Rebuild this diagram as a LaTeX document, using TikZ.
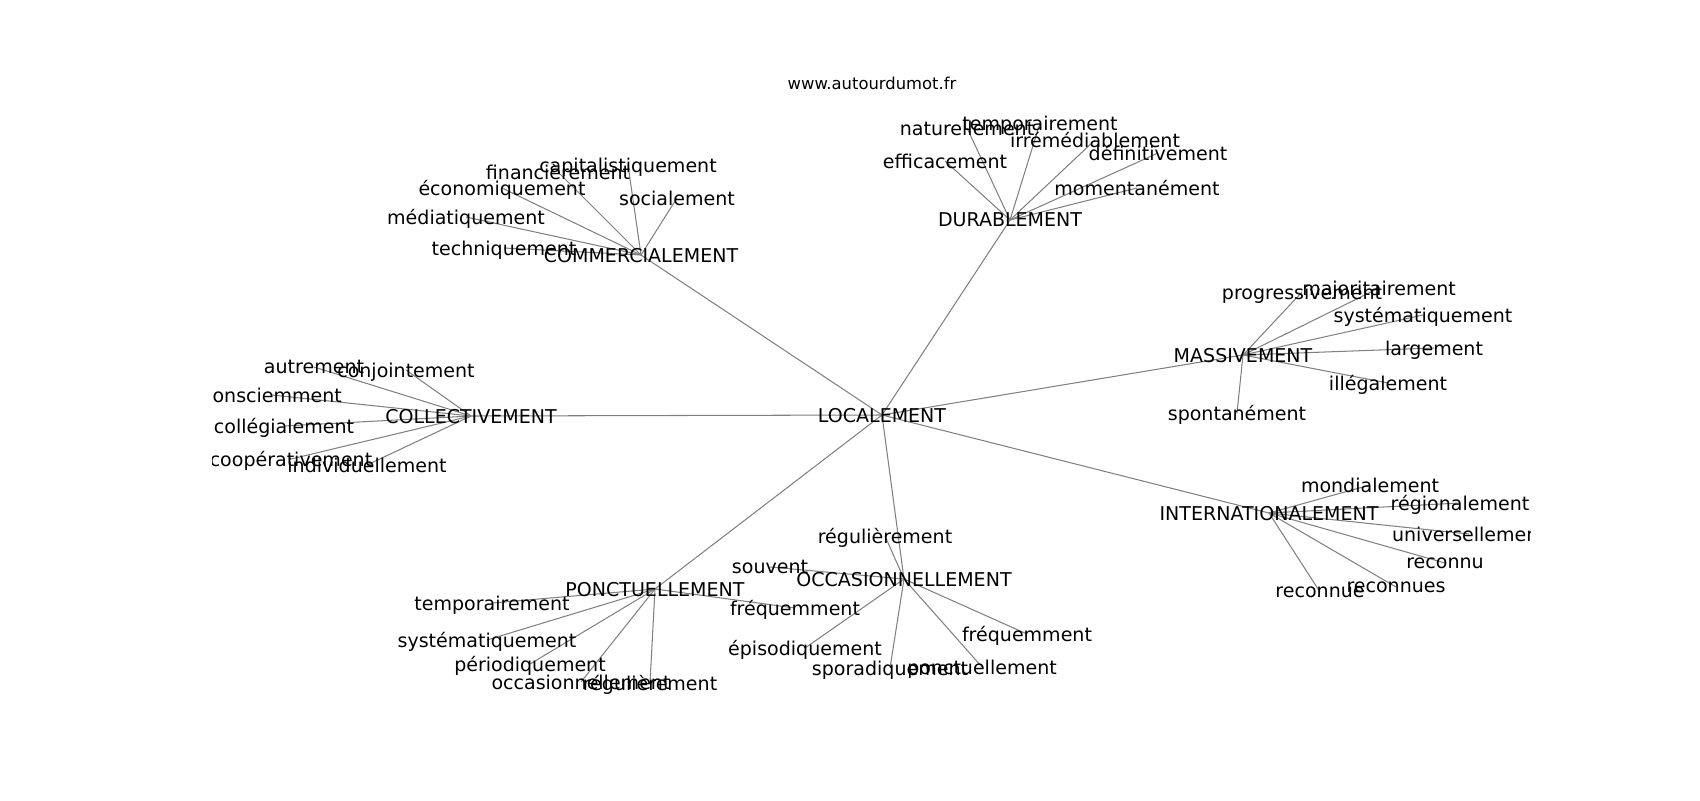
\documentclass[tikz,border=0pt]{standalone}
\usepackage{fontspec}
\setmainfont{DejaVu Sans}
\usetikzlibrary{backgrounds}

\begin{document}
\begin{tikzpicture}[
      x=0.72pt, y=-0.72pt,
      every node/.style={inner sep=0pt,text depth=0pt,font=\fontsize{13.7}{16}\selectfont},
      link/.style={draw=black!50,line width=0.75pt},
      site/.style={font=\fontsize{11.8}{14}\selectfont}
    ]
  \useasboundingbox (0,0) rectangle (1700,800);
  \node[site] (title) at (872,83) {www.autourdumot.fr};
  \begin{scope}
    \clip (212.5,96) rectangle (1530,712);
    % centre
    \node (loc) at (882,415) {LOCALEMENT};
    % collectivement
    \node (coll) at (471,416) {COLLECTIVEMENT};
    \node (coll1) at (314,367) {autrement};
    \node (coll2) at (406,370) {conjointement};
    \node (coll3) at (272,395) {consciemment};
    \node (coll4) at (284,426) {collégialement};
    \node (coll5) at (291,459) {coopérativement};
    \node (coll6) at (367,465) {individuellement};
    % commercialement
    \node (comm) at (641,255) {COMMERCIALEMENT};
    \node (comm1) at (558,172) {financièrement};
    \node (comm2) at (628,165) {capitalistiquement};
    \node (comm3) at (502,188) {économiquement};
    \node (comm4) at (677,198) {socialement};
    \node (comm5) at (466,217) {médiatiquement};
    \node (comm6) at (504,248) {techniquement};
    % durablement
    \node (dur) at (1010,220) {DURABLEMENT};
    \node (dur1) at (967,128) {naturellement};
    \node (dur2) at (1040,123) {temporairement};
    \node (dur3) at (1095,140) {irrémédiablement};
    \node (dur4) at (1158,153) {définitivement};
    \node (dur5) at (945,161) {efficacement};
    \node (dur6) at (1137,188) {momentanément};
    % massivement
    \node (mass) at (1243,355) {MASSIVEMENT};
    \node (mass1) at (1302,292) {progressivement};
    \node (mass2) at (1379,288) {majoritairement};
    \node (mass3) at (1423,315) {systématiquement};
    \node (mass4) at (1434,348) {largement};
    \node (mass5) at (1388,383) {illégalement};
    \node (mass6) at (1237,413) {spontanément};
    % internationalement
    \node (intl) at (1269,513) {INTERNATIONALEMENT};
    \node (intl1) at (1370,485) {mondialement};
    \node (intl2) at (1460,503) {régionalement};
    \node (intl3) at (1469,534) {universellement};
    \node (intl4) at (1445,563) {reconnu};
    \node (intl5) at (1320,592) {reconnue};
    \node (intl6) at (1396,587) {reconnues};
    % ponctuellement
    \node (ponc) at (655,589) {PONCTUELLEMENT};
    \node (ponc1) at (492,603) {temporairement};
    \node (ponc2) at (487,640) {systématiquement};
    \node (ponc3) at (530,664) {périodiquement};
    \node (ponc4) at (581,682) {occasionnellement};
    \node (ponc5) at (650,683) {régulièrement};
    \node (ponc6) at (795,608) {fréquemment};
    % occasionnellement
    \node (occ) at (904,579) {OCCASIONNELLEMENT};
    \node (occ1) at (885,536) {régulièrement};
    \node (occ2) at (770,567) {souvent};
    \node (occ3) at (1027,634) {fréquemment};
    \node (occ4) at (805,648) {épisodiquement};
    \node (occ5) at (890,668) {sporadiquement};
    \node (occ6) at (982,667) {ponctuellement};
  \end{scope}
  \begin{pgfonlayer}{background}
    \clip (212.5,96) rectangle (1530,712);
    \foreach \hub in {coll,comm,dur,mass,intl,ponc,occ}{
      \draw[link] (loc.center) -- (\hub.center);
      \foreach \i in {1,...,6}
        \draw[link] (\hub.center) -- (\hub\i.center);
    }
  \end{pgfonlayer}
\end{tikzpicture}
\end{document}
